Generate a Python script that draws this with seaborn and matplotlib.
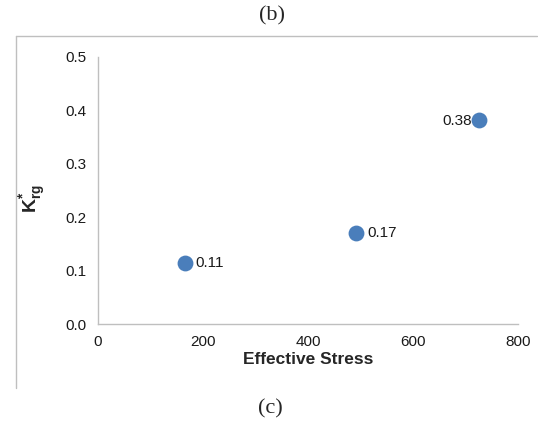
import matplotlib
matplotlib.use("Agg")
import matplotlib.pyplot as plt
import seaborn as sns
import pandas as pd
from matplotlib.lines import Line2D

stress = [165, 491, 725]
krg = [0.115, 0.171, 0.382]
labels = ["0.11", "0.17", "0.38"]
xticks = [0, 200, 400, 600, 800]
yticks = [0.0, 0.1, 0.2, 0.3, 0.4, 0.5]

sns.set_style("white")
plt.rcParams['font.family'] = ['Liberation Sans', 'DejaVu Sans']
plt.rcParams['mathtext.fontset'] = 'custom'
plt.rcParams['mathtext.rm'] = 'Liberation Sans'
plt.rcParams['mathtext.bf'] = 'Liberation Sans:bold'

df = pd.DataFrame({"Effective Stress": stress, "Krg": krg})

fig = plt.figure(figsize=(5.38, 4.28), dpi=100)
ax = fig.add_axes([98/538, 1-324/428, 420/538, 267/428])

sns.scatterplot(data=df, x="Effective Stress", y="Krg", ax=ax, s=130,
                color="#4A7EBB", edgecolor="#4A7EBB", linewidth=0, zorder=3)

for i, (x, y, t) in enumerate(zip(stress, krg, labels)):
    if i == 2:
        ax.annotate(t, (x, y), xytext=(-5, -1), textcoords="offset points",
                    ha="right", va="center", fontsize=11, color="#1a1a1a")
    else:
        ax.annotate(t, (x, y), xytext=(8, 0), textcoords="offset points",
                    ha="left", va="center", fontsize=11, color="#1a1a1a")

ax.set_xlim(0, 800)
ax.set_ylim(0, 0.5)
ax.set_xticks(xticks)
ax.set_xticklabels([str(v) for v in xticks])
ax.set_yticks(yticks)
ax.set_yticklabels([f"{v:.1f}" for v in yticks])

for s in ["top", "right"]:
    ax.spines[s].set_visible(False)
for s in ["left", "bottom"]:
    ax.spines[s].set_color("#BFBFBF")
    ax.spines[s].set_linewidth(1)
ax.tick_params(axis="both", which="major", direction="out", length=5, width=1,
               color="#BFBFBF", labelsize=11, labelcolor="#1a1a1a", pad=3)

ax.set_xlabel("Effective Stress", fontsize=12.5, fontweight="bold", labelpad=2)
ax.set_ylabel(r"$\mathbf{K_{rg}^{*}}$", fontsize=14)
ax.yaxis.set_label_coords(-0.12, 0.47)

# frame lines of the enclosing chart box
fig.add_artist(Line2D([16/538, 16/538], [1-36/428, 1-388/428], transform=fig.transFigure,
                      color="#BFBFBF", linewidth=1))
fig.add_artist(Line2D([16/538, 537/538], [1-36/428, 1-36/428], transform=fig.transFigure,
                      color="#BFBFBF", linewidth=1))

fig.text(272/538, 1-16/428, "(b)", ha="center", va="center", fontsize=16,
         family=["Liberation Serif", "DejaVu Serif"])
fig.text(270/538, 1-409/428, "(c)", ha="center", va="center", fontsize=16,
         family=["Liberation Serif", "DejaVu Serif"])

fig.savefig("out.png", dpi=100)
